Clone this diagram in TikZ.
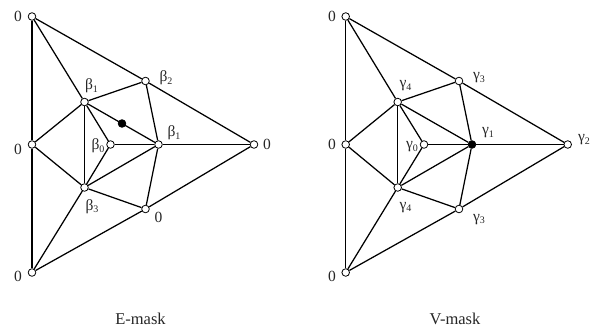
\documentclass[tikz,border=0pt]{standalone}
\usepackage{fontspec}
\setmainfont{Liberation Serif}
\newcommand{\gs}[2]{#1{\fontsize{10}{11}\selectfont\raisebox{-2.5pt}{#2}}}
\tikzset{
  v/.style={circle,draw=black,fill=white,line width=0.8pt,minimum size=7.6pt,inner sep=0pt},
  vblack/.style={v,fill=black},
  edgeline/.style={line width=1.25pt,black},
  lab/.style={inner sep=0pt,font=\fontsize{15.5}{17}\selectfont,text=black!85},
  captext/.style={inner sep=0pt,font=\fontsize{16.5}{18}\selectfont,text=black!85}
}
\begin{document}
\begin{tikzpicture}[x=1pt,y=-1pt]
\useasboundingbox (0,0) rectangle (601,329);
% E-mask
\node[v] (ea) at (32,16.5) {};
\node[v] (eb) at (32,144.5) {};
\node[v] (ec) at (32,272.5) {};
\node[v] (ed) at (254,144.5) {};
\node[v] (ee) at (145.5,81) {};
\node[v] (ef) at (145.5,209) {};
\node[v] (eg) at (84.5,102) {};
\node[v] (eh) at (84.5,187.5) {};
\node[v] (ei) at (110.5,144.5) {};
\node[v] (ej) at (158.5,144.5) {};
\foreach \p/\q in {ea/eb,eb/ec,ea/ee,ee/ed,ec/ef,ef/ed,ea/eg,ec/eh,eb/eg,eb/eh,eg/eh,eg/ee,eh/ef,eg/ei,eh/ei,eg/ej,eh/ej,ei/ej,ej/ed,ee/ej,ef/ej}
  \draw[edgeline] (\p) -- (\q);
\node[vblack] (em) at (122,123.5) {};
\node[lab] (l1) at (18,16) {0};
\node[lab] (l2) at (18,149) {0};
\node[lab] (l3) at (18,276.5) {0};
\node[lab] (l4) at (267,144) {0};
\node[lab] (l5) at (158.5,217) {0};
\node[lab] (l6) at (166,78) {\gs{β}{2}};
\node[lab] (l7) at (91.5,86) {\gs{β}{1}};
\node[lab] (l8) at (174,133) {\gs{β}{1}};
\node[lab] (l9) at (98,146) {\gs{β}{0}};
\node[lab] (l10) at (92,206.5) {\gs{β}{3}};
\node[captext] (ecap) at (140.5,319) {E-mask};
% V-mask
\node[v] (va) at (345.7,16.5) {};
\node[v] (vb) at (345.7,144.5) {};
\node[v] (vc) at (345.7,272.5) {};
\node[v] (vd) at (567.7,144.5) {};
\node[v] (ve) at (459,81) {};
\node[v] (vf) at (459,209) {};
\node[v] (vg) at (397.7,102) {};
\node[v] (vh) at (397.7,187.5) {};
\node[v] (vi) at (424,144.5) {};
\node[vblack] (vj) at (472,144.5) {};
\foreach \p/\q in {va/vb,vb/vc,va/ve,ve/vd,vc/vf,vf/vd,va/vg,vc/vh,vb/vg,vb/vh,vg/vh,vg/ve,vh/vf,vg/vi,vh/vi,vg/vj,vh/vj,vi/vj,vj/vd,ve/vj,vf/vj}
  \draw[edgeline] (\p) -- (\q);
\node[lab] (m1) at (332,16) {0};
\node[lab] (m2) at (332,144) {0};
\node[lab] (m3) at (332,276.5) {0};
\node[lab] (m4) at (584,140) {\gs{γ}{2}};
\node[lab] (m5) at (479,219.5) {\gs{γ}{3}};
\node[lab] (m6) at (479,78) {\gs{γ}{3}};
\node[lab] (m7) at (405.5,86) {\gs{γ}{4}};
\node[lab] (m8) at (488,133) {\gs{γ}{1}};
\node[lab] (m9) at (412,147) {\gs{γ}{0}};
\node[lab] (m10) at (405.5,207.5) {\gs{γ}{4}};
\node[captext] (vcap) at (455,319) {V-mask};
\end{tikzpicture}
\end{document}
